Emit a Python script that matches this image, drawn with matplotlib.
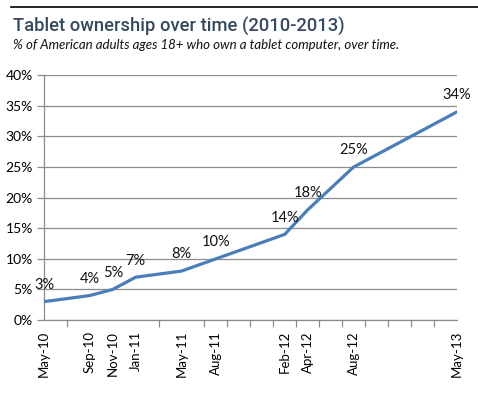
import matplotlib
matplotlib.use("Agg")
import matplotlib.pyplot as plt
from matplotlib.ticker import FuncFormatter, MultipleLocator, FixedLocator
from matplotlib.lines import Line2D

# months since May 2010
months = [0, 4, 6, 8, 12, 15, 21, 23, 27, 36]
labels = ["May-10", "Sep-10", "Nov-10", "Jan-11", "May-11", "Aug-11",
          "Feb-12", "Apr-12", "Aug-12", "May-13"]
values = [3, 4, 5, 7, 8, 10, 14, 18, 25, 34]

title = "Tablet ownership over time (2010-2013)"
subtitle = "% of American adults ages 18+ who own a tablet computer, over time."

W, H = 478, 398
fig = plt.figure(figsize=(W / 100, H / 100), dpi=100)
ax = fig.add_axes([44 / W, 1 - 320 / H, (456.7 - 44) / W, (320 - 75.3) / H])

line_col = "#4a7ebb"
grid_col = "#8c8c8c"
font = "Lato"

ax.plot(months, values, color=line_col, lw=2.3, solid_joinstyle="miter", zorder=3)
for m, v in zip(months, values):
    ax.annotate(f"{v}%", (m, v), xytext=(0, 12), textcoords="offset points",
                ha="center", va="center", fontsize=10.5, family=font, color="#111111")

ax.set_xlim(0, 36)
ax.set_ylim(0, 40)
ax.yaxis.set_major_locator(MultipleLocator(5))
ax.yaxis.set_major_formatter(FuncFormatter(lambda v, p: f"{v:.0f}%"))
ax.grid(axis="y", color=grid_col, lw=0.9)
ax.set_axisbelow(True)

ax.xaxis.set_major_locator(FixedLocator(months))
ax.set_xticklabels(labels, rotation=90, family=font, fontsize=9.5)
ax.xaxis.set_minor_locator(MultipleLocator(2))
ax.tick_params(axis="x", which="major", length=0, pad=8)
ax.tick_params(axis="x", which="minor", length=5, color=grid_col, width=0.9)
ax.tick_params(axis="y", length=5, color=grid_col, width=0.9, pad=3)
for t in ax.get_yticklabels():
    t.set_family(font)
    t.set_fontsize(10)

for s in ["top", "right"]:
    ax.spines[s].set_visible(False)
for s in ["left", "bottom"]:
    ax.spines[s].set_color(grid_col)
    ax.spines[s].set_linewidth(0.9)

fig.add_artist(Line2D([11 / W, 1], [1 - 6.7 / H] * 2, color="black", lw=1.2))
fig.text(13 / W, 1 - 32 / H, title, fontsize=13.2, family="Roboto",
         weight="medium", color="#34495e", va="baseline")
fig.text(13 / W, 1 - 49 / H, subtitle, fontsize=9.5, family=font,
         style="italic", color="#111111", va="baseline")

fig.savefig("out.png", dpi=100)
